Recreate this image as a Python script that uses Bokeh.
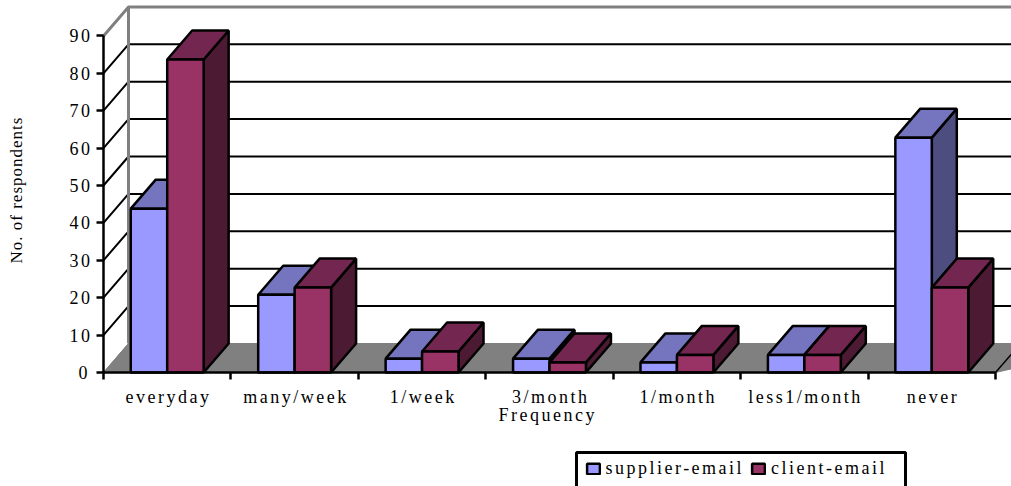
from bokeh.embed import file_html
from bokeh.resources import INLINE
from bokeh.plotting import figure
from bokeh.layouts import row
from bokeh.models import Range1d, FixedTicker, Legend, LegendItem
from bokeh.core.properties import value

categories = ["everyday", "many/week", "1/week", "3/month", "1/month", "less1/month", "never"]
supplier = [43.8, 20.8, 3.7, 3.7, 2.7, 4.7, 62.8]
client = [83.7, 22.7, 5.6, 2.7, 4.7, 4.7, 22.7]
series_names = ["supplier-email", "client-email"]
y_ticks = [0, 10, 20, 30, 40, 50, 60, 70, 80, 90]
x_title = "Frequency"
y_title = "No. of respondents"

FONT = "Liberation Serif"
SPACING = 2.5
PX_X = 127.43
PX_Y = 3.74
X0 = 103
Y0 = 372
DX = 25 / PX_X
DY = 29 / PX_Y
LEFT = 32
W = 1011 - LEFT
H = 486


def dx(px):
    return (px - X0) / PX_X


def dy(py):
    return (Y0 - py) / PX_Y


p = figure(width=W, height=H, x_range=Range1d(dx(LEFT), dx(1011)), y_range=Range1d(dy(486), dy(0)),
           output_backend="svg", toolbar_location=None, min_border=0, outline_line_color=None,
           background_fill_color="white", border_fill_color="white", tools="",
           styles={"letter-spacing": f"{SPACING}px"})
p.grid.visible = False

xr = 8.0
# floor
p.patch([0, DX, xr, 7], [0, DY, DY, 0], fill_color="#808080", line_color="#808080", line_width=1)
# back and side walls
for v in y_ticks[1:-1]:
    p.line([0, DX, xr], [v, v + DY, v + DY], line_color="black", line_width=2)
p.line([0, DX, xr], [90, 90 + DY, 90 + DY], line_color="#808080", line_width=3)
p.line([DX, DX], [DY, 90 + DY], line_color="#808080", line_width=3)
p.line([0, DX], [0, DY], line_color="#808080", line_width=1)
p.line([7, 7 + DX], [0, DY], line_color="black", line_width=1.5)

BAR_OFF = 0.214
BAR_W = 0.286
front = ["#9999FF", "#993366"]
top = ["#7474BF", "#732650"]
side = ["#4D4D80", "#4D1A33"]
legend_r = [None, None]
LW = 2.5
for i in range(len(categories)):
    for s, vals in enumerate([supplier, client]):
        a = i + BAR_OFF + s * BAR_W
        b = a + BAR_W
        v = vals[i]
        p.patch([b, b + DX, b + DX, b], [0, DY, v + DY, v], fill_color=side[s], line_color="black", line_width=LW)
        p.patch([a, a + DX, b + DX, b], [v, v + DY, v + DY, v], fill_color=top[s], line_color="black", line_width=LW)
        q = p.quad(left=a, right=b, bottom=0, top=v, fill_color=front[s], line_color="black", line_width=LW)
        if legend_r[s] is None:
            legend_r[s] = q

# axes
yax = p.yaxis[0]
yax.fixed_location = 0
yax.bounds = (0, 90)
yax.ticker = FixedTicker(ticks=y_ticks)
yax.axis_line_width = 2.5
yax.major_tick_line_width = 2.5
yax.major_tick_out = 7
yax.major_tick_in = 0
yax.minor_tick_line_color = None
yax.major_label_standoff = 9
yax.major_label_text_font = FONT
yax.major_label_text_font_size = "18px"
yax.major_label_text_color = "black"

xax = p.xaxis[0]
xax.fixed_location = 0
xax.bounds = (0, 7)
xax.ticker = FixedTicker(ticks=[], minor_ticks=list(range(8)))
xax.axis_line_width = 2.5
xax.major_tick_line_color = None
xax.major_label_text_color = None
xax.minor_tick_line_width = 2.5
xax.minor_tick_out = 7
xax.minor_tick_in = 0


def spaced_offset(s):
    return -(len(s) - 1) * SPACING / 2


p.text(x=[i + 0.5 for i in range(len(categories))], y=[dy(396)] * len(categories), text=categories,
       x_offset=[spaced_offset(c) for c in categories], text_font=value(FONT), text_font_size="18px",
       text_align="center", text_baseline="middle", text_color="black")
p.text(x=[dx(546)], y=[dy(414)], text=[x_title], x_offset=[spaced_offset(x_title)], text_font=value(FONT),
       text_font_size="18px", text_align="center", text_baseline="middle", text_color="black")

# legend box (its lower edge falls outside the picture)
p.patch([dx(576), dx(576), dx(905), dx(905)], [dy(500), dy(452), dy(452), dy(500)],
        fill_color="white", line_color="black", line_width=3)
legend = Legend(items=[LegendItem(label=value(n), renderers=[r]) for n, r in zip(series_names, legend_r)],
                orientation="horizontal", location=(584.5 - LEFT, 486 - 479), label_text_font=FONT,
                label_text_font_size="18px", label_text_color="black", border_line_color=None,
                background_fill_alpha=0, glyph_width=16, glyph_height=13,
                label_standoff=5, spacing=6, padding=0, margin=0, label_width=135)
p.add_layout(legend, "center")

t = figure(width=LEFT, height=H, x_range=Range1d(0, LEFT), y_range=Range1d(486, 0), output_backend="svg",
           toolbar_location=None, min_border=0, outline_line_color=None, tools="",
           x_axis_location=None, y_axis_location=None, styles={"letter-spacing": "1px"})
t.grid.visible = False
t.text(x=[16], y=[263], text=[y_title], text_font=value(FONT), text_font_size="17px", angle=1.5708,
       text_align="left", text_baseline="middle", text_color="black")

layout = row(t, p, spacing=0)
open("out.html", "w").write(file_html(layout, INLINE))
